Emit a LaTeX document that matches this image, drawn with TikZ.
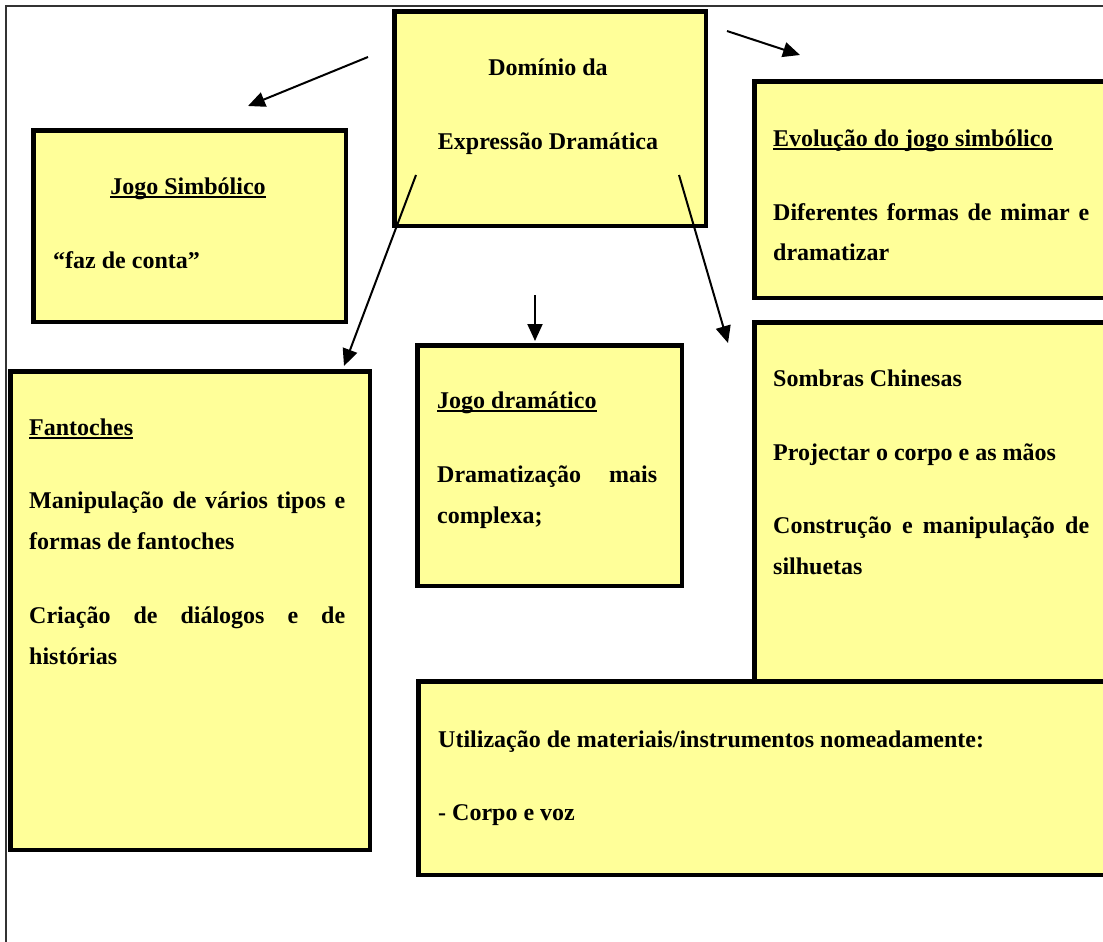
\documentclass[tikz,border=0pt]{standalone}
\usepackage{fontspec}
\setmainfont{Liberation Serif}
\usetikzlibrary{arrows.meta}
\definecolor{boxyellow}{RGB}{255,255,153}
\newcommand{\myul}[1]{\setbox0\hbox{#1}\rlap{\rule[-4pt]{\wd0}{1.6pt}}\box0}
\begin{document}
\begin{tikzpicture}[x=1pt,y=-1pt,
  font=\bfseries\fontsize{24}{28}\selectfont,
  boxst/.style={draw=black, line width=4.5pt, fill=boxyellow, rectangle, anchor=north west, inner sep=0pt},
  txt/.style={inner sep=0pt, anchor=base west},
  ctxt/.style={inner sep=0pt, anchor=base},
  arr/.style={line width=2pt, -{Triangle[length=17pt,width=15pt]}},
  frameline/.style={line width=2pt, draw=black!80}]
\clip (0,0) rectangle (1103,942);
\fill[white] (0,0) rectangle (1103,942);
\draw[frameline] (6,942) -- (6,6) -- (1103,6);

% boxes
\node[boxst, minimum width=311.5pt, minimum height=214.5pt] (dom) at (392.25,9.25) {};
\node[boxst, minimum width=312.5pt, minimum height=191.5pt] (js) at (31.25,128.25) {};
\node[boxst, minimum width=365.5pt, minimum height=216.5pt] (evo) at (752.25,79.25) {};
\node[boxst, minimum width=359.5pt, minimum height=478.5pt] (fan) at (8.25,369.25) {};
\node[boxst, minimum width=264.5pt, minimum height=240.5pt] (jd) at (415.25,343.25) {};
\node[boxst, minimum width=365.5pt, minimum height=377.5pt] (som) at (752.25,320.25) {};
\node[boxst, minimum width=701.5pt, minimum height=193.5pt] (utl) at (416.25,679.25) {};

% texts
\node[ctxt] (dom1) at (548,75) {Domínio da};
\node[ctxt] (dom2) at (548,149) {Expressão Dramática};

\node[ctxt] (js1) at (188,194) {\myul{Jogo Simbólico}};
\node[txt] (js2) at (53,268) {“faz de conta”};

\node[txt] (evo1) at (773,146) {\myul{Evolução do jogo simbólico}};
\node[txt] (evo2) at (773,220) {\makebox[316pt][s]{Diferentes formas de mimar e}};
\node[txt] (evo3) at (773,260) {dramatizar};

\node[txt] (fan1) at (29,435) {\myul{Fantoches}};
\node[txt] (fan2) at (29,508) {\makebox[316pt][s]{Manipulação de vários tipos e}};
\node[txt] (fan3) at (29,549) {formas de fantoches};
\node[txt] (fan4) at (29,623) {\makebox[316pt][s]{Criação de diálogos e de}};
\node[txt] (fan5) at (29,664) {histórias};

\node[txt] (jd1) at (437,408) {\myul{Jogo dramático}};
\node[txt] (jd2) at (437,482) {\makebox[220pt][s]{Dramatização mais}};
\node[txt] (jd3) at (437,523) {complexa;};

\node[txt] (som1) at (773,386) {Sombras Chinesas};
\node[txt] (som2) at (773,460) {Projectar o corpo e as mãos};
\node[txt] (som3) at (773,533) {\makebox[316pt][s]{Construção e manipulação de}};
\node[txt] (som4) at (773,574) {silhuetas};

\node[txt] (utl1) at (438,747) {Utilização de materiais/instrumentos nomeadamente:};
\node[txt] (utl2) at (438,820) {- Corpo e voz};

% arrow endpoints
\coordinate (a1s) at (368,57);
\coordinate (a1e) at (248,106);
\coordinate (a2s) at (727,31);
\coordinate (a2e) at (800,55);
\coordinate (a3s) at (416,175);
\coordinate (a3e) at (344,366);
\coordinate (a4s) at (535,295);
\coordinate (a4e) at (535,341);
\coordinate (a5s) at (679,175);
\coordinate (a5e) at (728,343);

\draw[arr] (a1s) -- (a1e);
\draw[arr] (a2s) -- (a2e);
\draw[arr] (a3s) -- (a3e);
\draw[arr] (a4s) -- (a4e);
\draw[arr] (a5s) -- (a5e);
\end{tikzpicture}
\end{document}
